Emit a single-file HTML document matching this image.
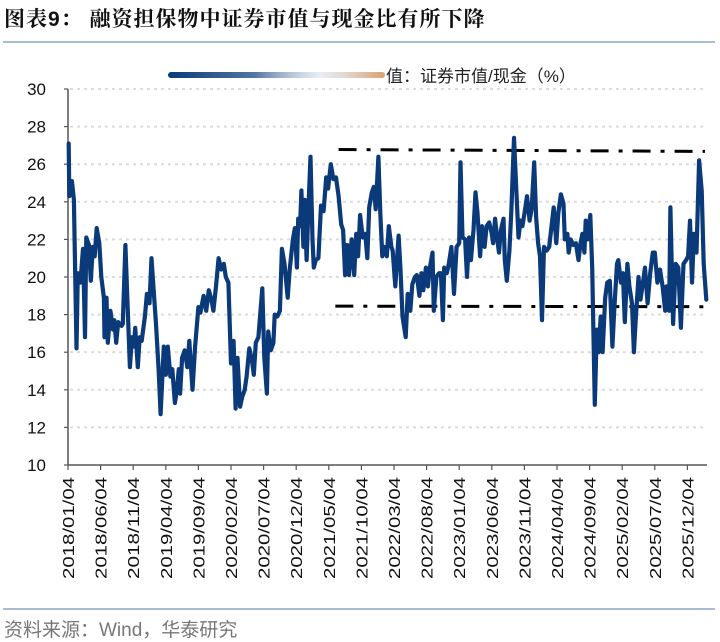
<!DOCTYPE html>
<html><head><meta charset="utf-8">
<style>
html,body{margin:0;padding:0;background:#fff;}
body{width:720px;height:640px;overflow:hidden;position:relative;font-family:"Liberation Sans","Noto Sans CJK SC",sans-serif;}
#title{position:absolute;left:4px;top:3px;font-size:21px;font-weight:bold;color:#111;font-family:"Liberation Sans","Noto Serif CJK SC","Noto Sans CJK SC",sans-serif;letter-spacing:1px;white-space:nowrap;}
#topline{position:absolute;left:3px;top:41px;width:712px;height:2px;background:#a8bcd8;}
#botline{position:absolute;left:3px;top:608px;width:712px;height:2px;background:#a8bcd8;}
#source{position:absolute;left:4px;top:615px;font-size:19px;color:#777;white-space:nowrap;}
svg{position:absolute;left:0;top:0;}
</style></head>
<body>
<div id="title">图表9： 融资担保物中证券市值与现金比有所下降</div>
<div id="topline"></div>
<svg id="chart" width="720" height="640">
  <defs>
    <linearGradient id="lg" x1="0" x2="1" y1="0" y2="0">
      <stop offset="0" stop-color="#0a3a7a"/>
      <stop offset="0.4" stop-color="#0a3a7a" stop-opacity="0.7"/>
      <stop offset="0.7" stop-color="#c8d4e6" stop-opacity="0.4"/>
      <stop offset="1" stop-color="#d9a06a"/>
    </linearGradient>
  </defs>
  <g id="legend">
    <rect x="168" y="72" width="217" height="6" rx="3" fill="url(#lg)"/>
    <text x="386" y="82" font-size="17" fill="#222" font-family="Liberation Sans,Noto Sans CJK SC,sans-serif">值：证券市值/现金（%）</text>
  </g>
</svg>
<div id="botline"></div>
<div id="source">资料来源：Wind，华泰研究</div>
<script>
const yTicks = [10,12,14,16,18,20,22,24,26,28,30];
const xTickLabels = ["2018/01/04","2018/06/04","2018/11/04","2019/04/04","2019/09/04","2020/02/04","2020/07/04","2020/12/04","2021/05/04","2021/10/04","2022/03/04","2022/08/04","2023/01/04","2023/06/04","2023/11/04","2024/04/04","2024/09/04","2025/02/04","2025/07/04","2025/12/04"];
// months since 2018/01/04
const months = [0.1,0.2,0.6,0.9,1.3,1.5,1.9,2.3,2.6,2.8,3.2,3.5,3.8,4.1,4.4,4.8,5.1,5.5,5.6,5.9,6.1,6.5,6.9,7.1,7.4,7.7,8.2,8.4,8.8,9.1,9.5,9.8,10.1,10.3,10.7,11.0,11.3,11.8,12.1,12.5,12.8,13.1,13.5,13.9,14.2,14.7,15.0,15.3,15.7,16.0,16.4,16.7,17.0,17.2,17.5,17.9,18.3,18.6,19.1,19.5,20.0,20.3,20.8,21.2,21.6,22.0,22.3,22.7,23.1,23.5,23.9,24.2,24.6,25.0,25.4,25.7,26.0,26.4,26.7,27.1,27.4,27.8,28.2,28.5,28.8,29.2,29.8,30.1,30.5,30.7,31.1,31.5,31.7,32.1,32.5,32.8,33.2,33.7,34.0,34.5,34.8,35.1,35.3,35.6,35.8,36.1,36.3,36.6,36.9,37.2,37.5,37.7,38.0,38.4,38.8,39.2,39.6,39.9,40.3,40.7,41.1,41.5,41.9,42.2,42.5,42.8,43.1,43.5,43.9,44.2,44.5,44.8,45.2,45.6,45.9,46.2,46.6,46.9,47.2,47.6,47.9,48.2,48.5,48.9,49.2,49.6,49.8,50.2,50.7,51.0,51.3,51.8,52.1,52.5,52.8,53.2,53.5,53.9,54.2,54.5,54.9,55.2,55.5,55.9,56.1,56.5,56.9,57.2,57.5,57.7,58.1,58.4,58.8,59.2,59.6,60.0,60.2,60.5,60.9,61.2,61.5,61.8,62.2,62.5,62.8,63.2,63.5,63.9,64.2,64.6,65.0,65.2,65.5,65.8,66.1,66.4,66.8,67.0,67.3,67.7,68.0,68.4,68.8,69.1,69.4,69.7,70.1,70.4,70.8,71.1,71.5,71.8,72.1,72.4,72.7,73.0,73.4,73.8,74.1,74.5,74.9,75.2,75.6,76.0,76.2,76.6,76.8,77.1,77.5,77.9,78.3,78.6,78.9,79.2,79.4,79.7,80.1,80.4,80.8,81.1,81.4,81.7,82.0,82.4,82.7,83.1,83.5,83.8,84.2,84.4,84.8,85.1,85.4,85.8,86.1,86.5,86.8,87.1,87.5,87.8,88.1,88.5,88.9,89.3,89.7,90.0,90.4,90.8,91.2,91.6,91.8,92.2,92.4,92.8,93.2,93.6,94.0,94.4,94.8,95.1,95.4,95.7,96.0,96.4,96.8,97.2,97.5,97.9];
const ratioValues = [27.1,24.3,25.1,24.1,16.2,20.2,19.7,21.5,16.8,22.1,21.7,19.8,21.6,21.1,22.6,21.8,20.0,18.9,16.8,18.9,16.5,18.2,17.2,17.7,16.5,17.6,17.4,17.5,21.7,18.9,15.2,16.8,16.3,17.3,15.2,16.8,16.6,17.9,19.1,18.6,21.0,19.5,17.5,15.1,12.7,16.3,14.8,16.3,14.7,15.1,13.3,14.0,15.1,13.8,15.7,16.1,15.2,16.6,14.0,16.3,18.4,18.1,19.0,18.2,19.3,18.8,18.2,19.5,21.0,20.4,20.7,20.0,19.7,15.4,16.6,13.0,15.7,13.1,13.6,14.0,14.7,16.2,15.6,14.8,16.5,16.8,19.4,15.7,13.8,17.1,16.1,16.5,18.0,17.9,18.2,21.5,20.7,18.9,20.4,22.0,22.6,20.5,23.1,22.7,24.6,21.6,24.1,20.9,23.9,26.4,22.0,20.5,20.9,21.0,23.8,23.5,25.3,24.7,26.0,25.2,25.3,24.3,22.8,22.5,20.1,21.7,20.1,22.0,20.1,22.3,21.1,23.3,22.1,22.3,21.0,23.7,24.5,24.8,23.6,26.4,23.4,21.1,21.6,21.1,22.7,21.6,21.4,19.5,22.2,20.4,17.9,16.8,19.1,18.2,19.6,20.0,20.1,19.0,20.2,19.3,20.5,19.5,20.5,21.3,18.2,20.0,20.2,20.2,17.7,20.5,20.2,20.7,21.6,19.1,21.6,21.8,26.1,22.1,22.0,20.0,22.1,20.9,22.5,24.5,23.4,21.1,22.7,21.6,22.7,22.9,22.3,21.8,23.1,22.1,21.3,22.5,23.1,20.9,19.8,21.4,23.6,27.4,24.3,22.1,23.0,22.7,23.6,24.3,23.0,23.6,26.1,23.2,21.8,21.1,17.7,21.6,21.4,21.6,22.5,23.7,21.8,23.4,24.4,23.9,22.0,22.3,21.3,22.0,21.7,21.8,20.9,21.8,22.3,21.3,23.0,22.0,23.3,20.5,13.2,17.2,16.0,17.9,16.0,18.9,19.7,19.8,16.3,18.4,20.7,20.9,19.7,20.2,17.6,20.7,19.5,18.6,16.0,17.9,20.0,18.8,19.5,20.5,18.6,20.2,21.3,21.3,19.7,20.4,19.5,18.2,19.5,18.2,23.7,17.5,20.7,20.5,17.3,20.7,20.9,21.1,23.0,19.7,22.3,21.3,26.2,24.6,20.7,18.8];
// reference levels (start month, end month, start value, end value)
const refUpper = [41.5, 98.0, 26.78, 26.68];
const refLower = [41.0, 98.0, 18.45, 18.42];

const NS = "http://www.w3.org/2000/svg";
const svg = document.getElementById('chart');
const X0 = 68, X1 = 707, Y0 = 465, Y1 = 89;
const monthPx = 32.6 / 5;
function xs(m){ return X0 + m * monthPx; }
function ys(v){ return Y0 - (v - 10) / 20 * (Y0 - Y1); }
function mk(tag, attrs){ const e = document.createElementNS(NS, tag); for (const k in attrs) e.setAttribute(k, attrs[k]); svg.appendChild(e); return e; }

yTicks.forEach(v => {
  if (v === 10) return;
  const g = mk('line', {x1: X0+2, x2: X1, y1: ys(v), y2: ys(v), stroke: '#dcdcdc', 'stroke-width': 2, 'stroke-dasharray': '3 4'});
  
  
});
const ya = mk('line', {x1: X0, x2: X0, y1: Y1, y2: Y0, stroke: '#555', 'stroke-width': 1.5});


yTicks.forEach(v => {
  const t = mk('line', {x1: X0-4, x2: X0, y1: ys(v), y2: ys(v), stroke: '#555', 'stroke-width': 1.2});
  
  
  const l = mk('text', {x: 46, y: ys(v) + 6, 'text-anchor': 'end', 'font-size': 17, fill: '#111', 'font-family': 'Liberation Sans, sans-serif'});
  l.textContent = v;
  
  
});
const xa = mk('line', {x1: X0, x2: X1, y1: Y0, y2: Y0, stroke: '#555', 'stroke-width': 1.5});


xTickLabels.forEach((s, i) => {
  const x = xs(i * 5);
  const t = mk('line', {x1: x, x2: x, y1: Y0, y2: Y0 + 5, stroke: '#555', 'stroke-width': 1.2});
  
  
  const l = mk('text', {x: 0, y: 0, 'text-anchor': 'end', 'font-size': 16, fill: '#111', 'font-family': 'Liberation Sans, sans-serif', textLength: 102, lengthAdjust: 'spacingAndGlyphs', transform: 'translate(' + (x + 6) + ',' + (Y0 + 12) + ') rotate(-90)'});
  l.textContent = s;
  
  
});
[refUpper, refLower].forEach((r, i) => {
  const l = mk('line', {x1: xs(r[0]), x2: xs(r[1]) - 2, y1: ys(r[2]), y2: ys(r[3]), stroke: '#000', 'stroke-width': 3, 'stroke-dasharray': '18 10 4 10'});
  
  
});
let d = '';
months.forEach((m, i) => { d += (i ? 'L' : 'M') + xs(m).toFixed(1) + ',' + ys(ratioValues[i]).toFixed(1); });
const p = mk('path', {d: d, fill: 'none', stroke: '#0a3a7a', 'stroke-width': 4.2, 'stroke-linejoin': 'round', 'stroke-linecap': 'round'});


svg.appendChild(document.getElementById('legend'));
</script>
</body></html>
